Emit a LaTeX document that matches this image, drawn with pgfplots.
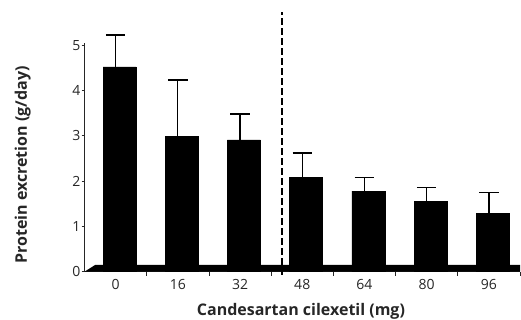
\documentclass[border=0pt]{standalone}
\usepackage{pgfplots}
\pgfplotsset{compat=1.18}
\usepackage{fontspec}
\setmainfont{Open Sans}
\definecolor{txt}{HTML}{262626}
\begin{document}
\begin{tikzpicture}[x=1pt,y=1pt]
\useasboundingbox (0,0) rectangle (521,320);
\begin{axis}[
  at={(84.5pt,48.3pt)}, anchor=south west,
  scale only axis, width=435.5pt, height=228.4pt,
  xmin=-0.5, xmax=6.5, ymin=0, ymax=5.04,
  clip=false,
  axis y line*=left, axis x line*=bottom,
  axis line style={line width=0.8pt, txt},
  xtick={0,...,6}, xticklabels={0,16,32,48,64,80,96},
  minor xtick={0.5,1.5,...,6.5},
  major x tick style={draw=none},
  minor tick length=4pt, major tick length=3pt,
  tick align=outside, tick style={line width=0.7pt, txt},
  ytick={0,...,5},
  tick label style={txt, font=\fontsize{14}{16}\selectfont},
  /pgf/number format/assume math mode=true,
  yticklabel style={inner sep=1pt},
  xticklabel style={yshift=-1pt},
  xlabel={\textbf{Candesartan cilexetil (mg)}},
  ylabel={\textbf{Protein excretion (g/day)}},
  every axis x label/.style={at={(axis description cs:0.497,0)}, anchor=center, yshift=-40pt, txt, font=\fontsize{16}{18}\selectfont},
  every axis y label/.style={at={(axis description cs:-0.142,0.467)}, rotate=90, anchor=center, txt, font=\fontsize{16}{18}\selectfont},
]
% floor
\addplot[fill=black, draw=none] coordinates {(-0.5,0) (-0.33,0.148) (6.5,0.148) (6.5,0)} -- cycle;
% bars
\addplot[ybar, bar width=33pt, bar shift=3.9pt, fill=black, draw=black] coordinates {
 (0,4.52) (1,2.98) (2,2.91) (3,2.08) (4,1.78) (5,1.56) (6,1.29)};
% error bars
\addplot[draw=none, mark=none,
  error bars/.cd, y dir=plus, y explicit, error mark=|,
  error bar style={draw=black, solid, line width=1.3pt},
  error mark options={draw=black, solid, line width=1.3pt, mark size=9.75pt}]
 coordinates {
 (0,4.52) +- (0,0.70)
 (1,2.98) +- (0,1.25)
 (2,2.91) +- (0,0.57)
 (3,2.08) +- (0,0.54)
 (4,1.78) +- (0,0.30)
 (5,1.56) +- (0,0.30)
 (6,1.29) +- (0,0.46)};
% dashed separator
\addplot[black, line width=1.8pt, dash pattern=on 7pt off 3pt] coordinates {(2.68,-0.07) (2.68,5.74)};
\end{axis}
\end{tikzpicture}
\end{document}
